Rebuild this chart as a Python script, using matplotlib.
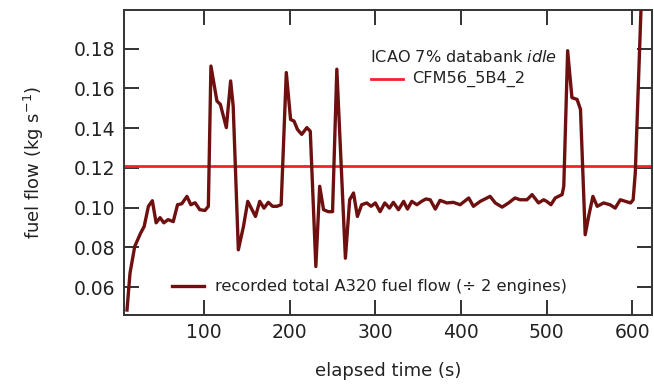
import numpy as np
import matplotlib.pyplot as plt

# recorded fuel flow, one engine share (kg/s) vs elapsed time (s)
time_s = [10, 13.5, 19, 26, 30, 35, 39.6, 44, 48.6, 53, 58, 64, 69, 74, 80, 84.5, 89.5, 95, 101, 105,
          108, 115, 119, 126, 131, 134, 140, 146, 151, 156, 160, 165, 170, 175, 180, 185, 190,
          196, 201, 205, 209, 214, 220, 224, 230.5, 235, 239.5, 245, 250, 255, 265, 270, 274.5,
          279, 284, 290, 295, 300, 305.5, 311, 316.5, 321, 327, 333, 337.5, 342.5, 348.5, 354,
          359, 364, 370, 375.5, 383.5, 391, 399, 409, 414.5, 422.5, 434, 440, 448, 455.5, 463,
          469, 477, 483, 490.5, 496.5, 500, 505, 510, 518, 520, 524.5, 529.5, 535.5, 539.5, 545,
          549, 554, 559, 566.5, 574, 580, 586, 592, 598, 601, 603.5, 610, 612]
fuel_flow = [0.0485, 0.067, 0.0805, 0.0873, 0.0905, 0.1007, 0.1035, 0.0924, 0.095, 0.0924, 0.094,
             0.093, 0.1015, 0.102, 0.1057, 0.1015, 0.1025, 0.099, 0.0986, 0.1007,
             0.1713, 0.1537, 0.152, 0.1403, 0.1638, 0.151, 0.0788, 0.0906, 0.1032, 0.099, 0.0956,
             0.1032, 0.0998, 0.1027, 0.1007, 0.1007, 0.1015,
             0.168, 0.1444, 0.1436, 0.1394, 0.1369, 0.1403, 0.1385, 0.0704, 0.1108, 0.099, 0.098,
             0.098, 0.1697, 0.0746, 0.104, 0.1074,
             0.0956, 0.1015, 0.1024, 0.1007, 0.1024, 0.098, 0.1024, 0.0998, 0.1027, 0.099, 0.1032,
             0.0993, 0.1032, 0.1015, 0.1032,
             0.1044, 0.104, 0.0993, 0.1037, 0.1024, 0.1027, 0.1015, 0.1049, 0.1007, 0.1032, 0.1057,
             0.1024, 0.1003, 0.1024, 0.1049,
             0.104, 0.104, 0.1066, 0.1024, 0.104, 0.1032, 0.1015, 0.1049, 0.1066, 0.1108, 0.179,
             0.1554, 0.1545, 0.1495, 0.0864,
             0.0956, 0.1057, 0.1007, 0.1024, 0.1015, 0.0998, 0.104, 0.1032, 0.1024, 0.104, 0.1177,
             0.198, 0.215]

icao_idle = 0.121  # ICAO 7% databank idle, CFM56_5B4_2

dark_red = '#6e1010'
bright_red = '#f5202a'
ink = '#222222'

plt.rcParams['font.family'] = 'DejaVu Sans'

fig = plt.figure(figsize=(6.54, 3.85), dpi=100)
ax = fig.add_axes([124 / 654, 1 - 315 / 385, (652 - 124) / 654, (315 - 10) / 385])

ax.axhline(icao_idle, color=bright_red, lw=2.0, zorder=2)
ax.plot(time_s, fuel_flow, color=dark_red, lw=2.4, zorder=3)

ax.set_xlim(6.5, 623)
ax.set_ylim(0.046, 0.1995)
ax.set_xticks([100, 200, 300, 400, 500, 600])
ax.set_yticks([0.06, 0.08, 0.10, 0.12, 0.14, 0.16, 0.18])
ax.yaxis.set_major_formatter(plt.FormatStrFormatter('%.2f'))
ax.tick_params(direction='in', length=11, width=1.3, top=True, right=True,
               labelsize=13.5, colors=ink, pad=6)
for sp in ax.spines.values():
    sp.set_linewidth(1.4)
    sp.set_color('#333333')

ax.set_xlabel('elapsed time (s)', fontsize=13, color=ink, labelpad=14)
ax.set_ylabel('fuel flow (kg s$^{-1}$)', fontsize=13, color=ink, labelpad=20)

# key entries written straight into the axes (axes-fraction coordinates)
def fx(px):
    return (px - 124) / 528

def fy(py):
    return 1 - (py - 10) / 305

trans = ax.transAxes
ax.text(fx(370), fy(57), 'ICAO 7% databank $\\it{idle}$',
        transform=trans, fontsize=11.6, color=ink, va='center', ha='left')
ax.plot([fx(371), fx(403)], [fy(79)] * 2, transform=trans, color=bright_red, lw=2.0)
ax.text(fx(412), fy(79), 'CFM56_5B4_2',
        transform=trans, fontsize=11.6, color=ink, va='center', ha='left')

ax.plot([fx(172), fx(204)], [fy(286)] * 2, transform=trans, color=dark_red, lw=2.4)
ax.text(fx(215), fy(286), 'recorded total A320 fuel flow (\u00f7 2 engines)',
        transform=trans, fontsize=11.7, color=ink, va='center', ha='left')

fig.savefig('out.png', dpi=100)
